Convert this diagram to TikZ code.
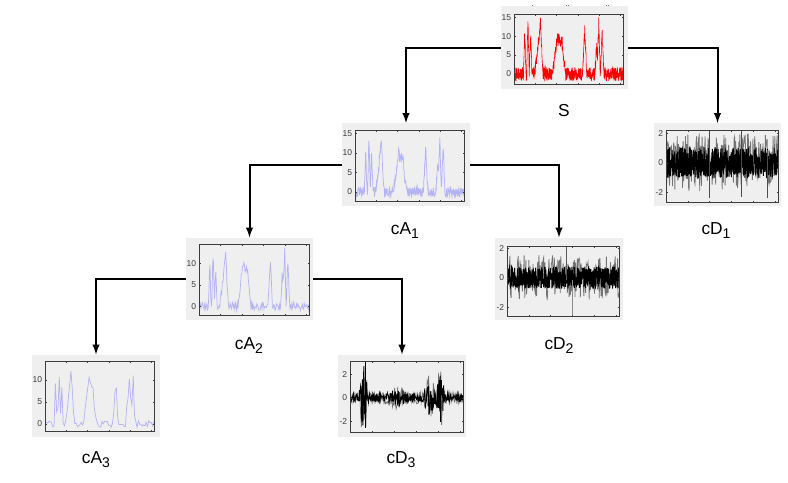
\documentclass[tikz,border=0pt]{standalone}
\usepackage{fontspec}
\setmainfont{Liberation Sans}
\usepackage{xcolor}
\usepackage{tikz}

\definecolor{PanelGrey}{HTML}{EFEFEF}
\definecolor{TraceBlue}{HTML}{B4B4F4}
\definecolor{AxisGrey}{HTML}{3C3C3C}

% unit triangle and the pulses that all approximations share
\pgfmathdeclarefunction{spike}{3}{\pgfmathparse{max(0,1-abs(#1-#2)/#3)}}
\pgfmathdeclarefunction{pulses}{1}{\pgfmathparse{
  11*spike(#1,.098,.012)+14.5*spike(#1,.128,.012)+10*spike(#1,.152,.013)
  +7*spike(#1,.222,.034)+10.5*spike(#1,.243,.024)
  +10.5*spike(#1,.402,.05)+6.5*spike(#1,.442,.032)
  +11.5*spike(#1,.648,.02)
  +8*spike(#1,.758,.016)+14.5*spike(#1,.778,.013)+11.5*spike(#1,.808,.016)}}
\pgfmathdeclarefunction{burst}{1}{\pgfmathparse{
  .38+3.2*spike(#1,.12,.04)+1.5*spike(#1,.70,.06)+1.9*spike(#1,.80,.045)+.4*spike(#1,.42,.1)}}

\newcommand{\subidx}[1]{\raisebox{-3.5pt}{\fontsize{10.5}{12}\selectfont #1}}

\tikzset{
  panel/.style={fill=PanelGrey, draw=none, minimum width=95.5pt, minimum height=62pt, inner sep=0pt},
  lbl/.style={anchor=base, inner sep=0pt, font=\fontsize{13}{15}\selectfont},
  ticklbl/.style={anchor=east, inner sep=0pt, text=AxisGrey, font=\fontsize{6.4}{7}\selectfont},
  axisbox/.style={draw=AxisGrey, line width=0.55pt},
  tick/.style={draw=AxisGrey, line width=0.3pt},
  branch/.style={-latex, black, line width=1.5pt},
}

\begin{document}
\begin{tikzpicture}[x=0.75pt,y=-0.75pt]
\useasboundingbox (0,0) rectangle (788,482);
\pgfmathsetseed{4711}

% Draw the grey panels
\foreach \pname/\xc/\yc in {s/564.5/47.5, ca1/406/164.5, cd1/717.5/164.5, ca2/249.5/279, cd2/559/279, ca3/96/396, cd3/402/396} {
    \node[panel] (\pname) at (\xc,\yc) {};
}

% Draw the labels
\node[lbl] (s-lbl) at (564,116.7) {S};
\node[lbl] (ca1-lbl) at (405,234) {cA\subidx{1}};
\node[lbl] (cd1-lbl) at (716,234) {cD\subidx{1}};
\node[lbl] (ca2-lbl) at (249,349) {cA\subidx{2}};
\node[lbl] (cd2-lbl) at (559,349) {cD\subidx{2}};
\node[lbl] (ca3-lbl) at (96,463.3) {cA\subidx{3}};
\node[lbl] (cd3-lbl) at (401,463.3) {cD\subidx{3}};

% Draw the pulse traces
\foreach \xa/\xb/\ya/\yb/\yz/\k/\ns/\amp/\wd/\col in {
    514/623/14/84/74/3.78/720/1.8/0.42pt/red,
    355/464/130/201/191.7/3.89/340/1.3/0.55pt/TraceBlue,
    199/309/244/315/306.3/4.27/170/1.0/0.55pt/TraceBlue,
    45/154/361/431/424/4.4/85/0.8/0.55pt/TraceBlue} {
    \begin{scope}
    \clip (\xa,\ya) rectangle (\xb,\yb);
    \draw[\col,line width=\wd] plot[domain=0:1,samples=\ns] ({\xa+(\xb-\xa)*\x},{\yz-\k*(pulses(\x)+\amp*rand)});
    \end{scope}
}

% Draw the detail traces
\foreach \xa/\xb/\ya/\yb/\yz/\k/\big/\core in {
    666/778/130/202/162.7/14.7/1.95/1.05,
    507/619/246/316/277.7/14.7/1.55/0.75} {
    \begin{scope}
    \clip (\xa,\ya) rectangle (\xb,\yb);
    \draw[black!55,line width=0.6pt] plot[domain=0:1,samples=190] ({\xa+(\xb-\xa)*\x},{\yz-\k*\big*rand});
    \draw[black,line width=0.7pt] plot[domain=0:1,samples=620] ({\xa+(\xb-\xa)*\x},{\yz-\k*\core*rand});
    \end{scope}
}
\begin{scope}
\clip (350,361) rectangle (463,432);
\draw[black!55,line width=0.55pt] plot[domain=0:1,samples=150] ({350+113*\x},{397.7-11.7*1.35*burst(\x)*rand});
\draw[black,line width=0.65pt] plot[domain=0:1,samples=300] ({350+113*\x},{397.7-11.7*burst(\x)*rand});
\end{scope}

% long single spikes
\draw[black!70,line width=0.5pt] (709,132) -- (709,198);
\draw[black!70,line width=0.5pt] (741,131) -- (741,197);
\draw[black!70,line width=0.5pt] (767,150) -- (767,198);
\draw[black!45,line width=0.9pt] (572.7,280) -- (572.7,316);
\draw[black!65,line width=0.5pt] (566,246) -- (566,280);
\draw[black,line width=0.6pt] (365.5,361) -- (365.5,428);

% Draw the axes and the ticks
\foreach \xa/\xb/\ya/\yb/\yz/\k/\vals in {
    514/623/14/84/74/3.78/{0,5,10,15},
    355/464/130/201/191.7/3.89/{0,5,10,15},
    199/309/244/315/306.3/4.27/{0,5,10},
    45/154/361/431/424/4.4/{0,5,10},
    666/778/130/202/162.7/14.7/{-2,0,2},
    507/619/246/316/277.7/14.7/{-2,0,2},
    350/463/361/432/397.7/11.7/{-2,0,2}} {
    \draw[axisbox] (\xa,\ya) rectangle (\xb,\yb);
    \foreach \j in {1,...,5} {
        \draw[tick] ({\xa+(\xb-\xa)*.195*\j},\yb) -- ++(0,-1.5);
        \draw[tick] ({\xa+(\xb-\xa)*.195*\j},\ya) -- ++(0,1.5);
    }
    \foreach \v in \vals {
        \draw[tick] (\xa,{\yz-\k*\v}) -- ++(1.5,0);
        \draw[tick] (\xb,{\yz-\k*\v}) -- ++(-1.5,0);
        \node[ticklbl] at ({\xa-2.5},{\yz-\k*\v}) {\v};
    }
}

% cut off tick labels above the first panel
\foreach \xm in {532,566,568.5,606,608.5} {
    \draw[AxisGrey!70,line width=0.5pt] (\xm,4.8) -- ++(0,1.6);
}

% Draw the branches
\draw[branch] (s.west) -| (ca1.north);
\draw[branch] (s.east) -| (cd1.north);
\draw[branch] (ca1.west) -| (ca2.north);
\draw[branch] (ca1.east) -| (cd2.north);
\draw[branch] (ca2.west) -| (ca3.north);
\draw[branch] (ca2.east) -| (cd3.north);
\end{tikzpicture}
\end{document}
